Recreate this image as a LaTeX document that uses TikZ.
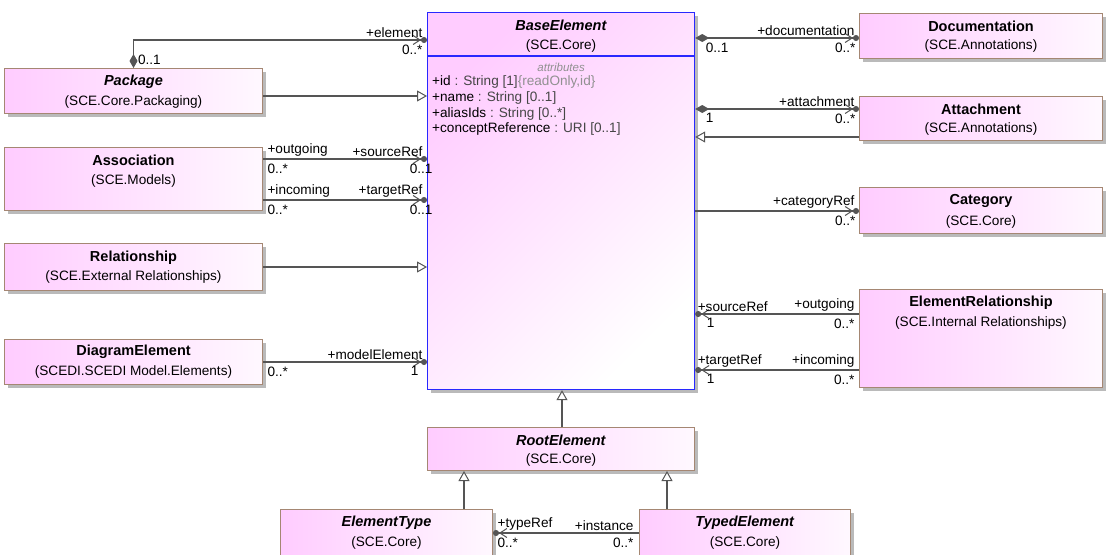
\documentclass[tikz,border=0pt]{standalone}
\usepackage{fontspec}
\setmainfont{Liberation Sans}
\usetikzlibrary{arrows.meta,shadows}
\definecolor{pinkL}{RGB}{255,204,255}
\definecolor{pinkR}{RGB}{255,248,255}
\definecolor{bordc}{RGB}{165,135,115}
\definecolor{blueb}{RGB}{40,40,255}
\definecolor{linec}{RGB}{85,85,85}
\definecolor{greyt}{RGB}{145,145,145}
\definecolor{attc}{RGB}{70,70,70}
\newcommand\ttlfont{\fontsize{14.5}{16}\selectfont\bfseries}
\newcommand\subfont{\fontsize{13.6}{15}\selectfont}
\newcommand\lblfont{\fontsize{13.6}{15}\selectfont}
\tikzset{
  cls/.style={draw=bordc, line width=1pt, left color=pinkL, right color=pinkR,
    anchor=north west, inner sep=0pt,
    drop shadow={shadow xshift=3pt, shadow yshift=-3pt, fill=black!60, opacity=0.45}},
  ttl/.style={font=\ttlfont, inner sep=0pt},
  sub/.style={font=\subfont, inner sep=0pt},
  attr/.style={font=\subfont, inner sep=0pt, anchor=west},
  lbl/.style={font=\lblfont, inner sep=1pt},
  conn/.style={draw=linec, line width=1.1pt},
  nav/.style={conn, -{Straight Barb[length=7pt,width=9pt,line width=1pt] Circle[length=6pt]}},
  compnav/.style={conn, {Diamond[length=14pt,width=8pt]}-{Straight Barb[length=7pt,width=9pt,line width=1pt] Circle[length=6pt]}},
  gen/.style={conn, -{Triangle[open,length=10pt,width=11pt,fill=white,line width=1pt]}}
}
\begin{document}
\begin{tikzpicture}[x=1pt,y=-1pt]
\useasboundingbox (0,0) rectangle (1107,554);
% ---- class boxes
\node[cls, draw=blueb, line width=1.2pt, top color=pinkL, bottom color=white, shading angle=45,
      minimum width=267, minimum height=377] (base) at (427,12) {};
\node[cls, minimum width=258, minimum height=45] (pkg) at (4,68) {};
\node[cls, minimum width=258, minimum height=63] (asc) at (4,147) {};
\node[cls, minimum width=258, minimum height=47] (rel) at (4,243) {};
\node[cls, minimum width=258, minimum height=45] (dia) at (4,339) {};
\node[cls, minimum width=243, minimum height=45] (doc) at (859,13) {};
\node[cls, minimum width=243, minimum height=44] (att) at (859,96) {};
\node[cls, minimum width=243, minimum height=46] (cat) at (859,187) {};
\node[cls, minimum width=243, minimum height=98] (er) at (859,289) {};
\node[cls, minimum width=267, minimum height=43] (root) at (427,427) {};
\node[cls, minimum width=212, minimum height=60] (et) at (280,509) {};
\node[cls, minimum width=211, minimum height=60] (te) at (639,509) {};
% ---- BaseElement compartments
\draw[blueb, line width=1.2pt] ([yshift=-44pt]base.north west) coordinate (bdl) -- ([yshift=-44pt]base.north east) coordinate (bdr);
\node[ttl] (baseT) at ([yshift=-13.5pt]base.north) {\textit{BaseElement}};
\node[sub] (baseS) at ([yshift=-33.5pt]base.north) {(SCE.Core)};
\node[font=\fontsize{11.5}{13}\selectfont\itshape, text=greyt, inner sep=0pt] (baseA) at ([yshift=-55pt]base.north) {attributes};
\node[attr] (a1) at ([xshift=5pt,yshift=-70pt]base.north west) {+id\textcolor{attc}{~: String [1]}\textcolor{greyt}{\{readOnly,id\}}};
\node[attr] (a2) at ([xshift=5pt,yshift=-86pt]base.north west) {+name\textcolor{attc}{~: String [0..1]}};
\node[attr] (a3) at ([xshift=5pt,yshift=-102pt]base.north west) {+aliasIds\textcolor{attc}{~: String [0..*]}};
\node[attr] (a4) at ([xshift=5pt,yshift=-117pt]base.north west) {+conceptReference\textcolor{attc}{~: URI [0..1]}};
% ---- titles
\node[ttl] (pkgT) at ([yshift=-13.5pt]pkg.north) {\textit{Package}};
\node[sub] (pkgS) at ([yshift=-33.5pt]pkg.north) {(SCE.Core.Packaging)};
\node[ttl] (ascT) at ([yshift=-13.5pt]asc.north) {Association};
\node[sub] (ascS) at ([yshift=-33.5pt]asc.north) {(SCE.Models)};
\node[ttl] (relT) at ([yshift=-14.5pt]rel.north) {Relationship};
\node[sub] (relS) at ([yshift=-34pt]rel.north) {(SCE.External Relationships)};
\node[ttl] (diaT) at ([yshift=-13pt]dia.north) {DiagramElement};
\node[sub] (diaS) at ([yshift=-32.5pt]dia.north) {(SCEDI.SCEDI Model.Elements)};
\node[ttl] (docT) at ([yshift=-13.5pt]doc.north) {Documentation};
\node[sub] (docS) at ([yshift=-32.5pt]doc.north) {(SCE.Annotations)};
\node[ttl] (attT) at ([yshift=-13pt]att.north) {Attachment};
\node[sub] (attS) at ([yshift=-32.5pt]att.north) {(SCE.Annotations)};
\node[ttl] (catT) at ([yshift=-14pt]cat.north) {Category};
\node[sub] (catS) at ([yshift=-34.5pt]cat.north) {(SCE.Core)};
\node[ttl] (erT) at ([yshift=-13.5pt]er.north) {ElementRelationship};
\node[sub] (erS) at ([yshift=-33.5pt]er.north) {(SCE.Internal Relationships)};
\node[ttl] (rootT) at ([yshift=-13.5pt]root.north) {\textit{RootElement}};
\node[sub] (rootS) at ([yshift=-33pt]root.north) {(SCE.Core)};
\node[ttl] (etT) at ([yshift=-14pt]et.north) {\textit{ElementType}};
\node[sub] (etS) at ([yshift=-34pt]et.north) {(SCE.Core)};
\node[ttl] (teT) at ([yshift=-14pt]te.north) {\textit{TypedElement}};
\node[sub] (teS) at ([yshift=-34pt]te.north) {(SCE.Core)};
% ---- left side connectors
\draw[compnav] (pkg.north) |- ([yshift=-28pt]base.north west)
  node[lbl, at start, anchor=west, xshift=3pt, yshift=8pt] {0..1}
  node[lbl, at end, anchor=south east, xshift=-3pt, yshift=1pt] {+element}
  node[lbl, at end, anchor=north east, xshift=-3pt, yshift=-3pt] {0..*};
\draw[gen] ([yshift=-28pt]pkg.north east) -- ([yshift=-28pt]pkg.north east -| base.west);
\draw[nav] ([yshift=-12pt]asc.north east) -- ([yshift=-12pt]asc.north east -| base.west)
  node[lbl, at start, anchor=south west, xshift=3pt, yshift=1pt] {+outgoing}
  node[lbl, at start, anchor=north west, xshift=3pt, yshift=-3pt] {0..*}
  node[lbl, at end, anchor=south east, xshift=-3pt, yshift=1pt] {+sourceRef}
  node[lbl, at end, anchor=north east, xshift=7pt, yshift=-3pt] {0..1};
\draw[nav] ([yshift=-53pt]asc.north east) -- ([yshift=-53pt]asc.north east -| base.west)
  node[lbl, at start, anchor=south west, xshift=3pt, yshift=1pt] {+incoming}
  node[lbl, at start, anchor=north west, xshift=3pt, yshift=-3pt] {0..*}
  node[lbl, at end, anchor=south east, xshift=-3pt, yshift=1pt] {+targetRef}
  node[lbl, at end, anchor=north east, xshift=7pt, yshift=-3pt] {0..1};
\draw[gen] ([yshift=-24pt]rel.north east) -- ([yshift=-24pt]rel.north east -| base.west);
\draw[nav] ([yshift=-23pt]dia.north east) -- ([yshift=-23pt]dia.north east -| base.west)
  node[lbl, at start, anchor=north west, xshift=3pt, yshift=-3pt] {0..*}
  node[lbl, at end, anchor=south east, xshift=-3pt, yshift=1pt] {+modelElement}
  node[lbl, at end, anchor=north east, xshift=-7pt, yshift=-3pt] {1};
% ---- right side connectors
\draw[compnav] ([yshift=-26pt]base.north east) -- ([yshift=-26pt]base.north east -| doc.west)
  node[lbl, at start, anchor=north west, xshift=9pt, yshift=-3pt] {0..1}
  node[lbl, at end, anchor=south east, xshift=-3pt, yshift=1pt] {+documentation}
  node[lbl, at end, anchor=north east, xshift=-2pt, yshift=-3pt] {0..*};
\draw[compnav] ([yshift=-97pt]base.north east) -- ([yshift=-97pt]base.north east -| att.west)
  node[lbl, at start, anchor=north west, xshift=9pt, yshift=-3pt] {1}
  node[lbl, at end, anchor=south east, xshift=-3pt, yshift=1pt] {+attachment}
  node[lbl, at end, anchor=north east, xshift=-2pt, yshift=-3pt] {0..*};
\draw[gen] ([yshift=-41pt]att.north west) -- ([yshift=-41pt]att.north west -| base.east);
\draw[nav] ([yshift=-199pt]base.north east) -- ([yshift=-199pt]base.north east -| cat.west)
  node[lbl, at end, anchor=south east, xshift=-3pt, yshift=1pt] {+categoryRef}
  node[lbl, at end, anchor=north east, xshift=-2pt, yshift=-3pt] {0..*};
\draw[nav] ([yshift=-25pt]er.north west) -- ([yshift=-25pt]er.north west -| base.east)
  node[lbl, at start, anchor=south east, xshift=-3pt, yshift=1pt] {+outgoing}
  node[lbl, at start, anchor=north east, xshift=-3pt, yshift=-3pt] {0..*}
  node[lbl, at end, anchor=south west, xshift=1pt, yshift=1pt] {+sourceRef}
  node[lbl, at end, anchor=north west, xshift=10pt, yshift=-3pt] {1};
\draw[nav] ([yshift=-81pt]er.north west) -- ([yshift=-81pt]er.north west -| base.east)
  node[lbl, at start, anchor=south east, xshift=-3pt, yshift=1pt] {+incoming}
  node[lbl, at start, anchor=north east, xshift=-3pt, yshift=-3pt] {0..*}
  node[lbl, at end, anchor=south west, xshift=1pt, yshift=1pt] {+targetRef}
  node[lbl, at end, anchor=north west, xshift=10pt, yshift=-3pt] {1};
% ---- bottom connectors
\draw[gen] ([xshift=135pt]root.north west) -- ([xshift=135pt]root.north west |- base.south);
\draw[gen] ([xshift=184pt]et.north west) -- ([xshift=184pt]et.north west |- root.south);
\draw[gen] ([xshift=28pt]te.north west) -- ([xshift=28pt]te.north west |- root.south);
\draw[nav] ([yshift=-24pt]te.north west) -- ([yshift=-24pt]te.north west -| et.east)
  node[lbl, at start, anchor=south east, xshift=-4pt, yshift=1pt] {+instance}
  node[lbl, at start, anchor=north east, xshift=-4pt, yshift=-3pt] {0..*}
  node[lbl, at end, anchor=south west, xshift=3pt, yshift=1pt] {+typeRef}
  node[lbl, at end, anchor=north west, xshift=3pt, yshift=-3pt] {0..*};
\end{tikzpicture}
\end{document}
